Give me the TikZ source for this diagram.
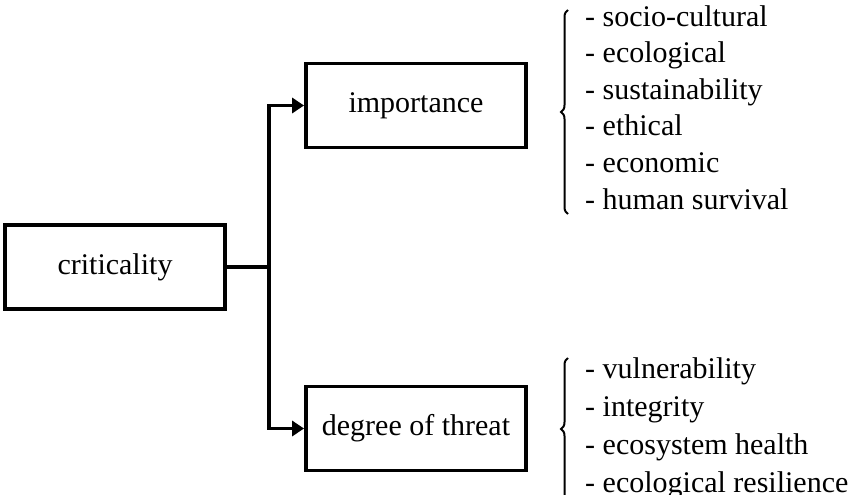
\documentclass[tikz,border=0pt]{standalone}
\usepackage{fontspec}
\setmainfont{Liberation Serif}
\usetikzlibrary{arrows.meta,decorations.pathreplacing}
\begin{document}
\begin{tikzpicture}[x=1pt,y=-1pt,
  box/.style={draw,line width=3.8pt,minimum width=220pt,minimum height=84pt,inner sep=0pt,font=\fontsize{30}{36}\selectfont},
  conn/.style={line width=3.2pt},
  arr/.style={conn,-{Triangle[length=12pt,width=15pt]}},
  lst/.style={anchor=north west,align=left,inner sep=0pt},
  brc/.style={decorate,decoration={brace,amplitude=7pt},line width=2pt}]
\useasboundingbox (0,0) rectangle (854,495);
\clip (0,0) rectangle (854,495);
\node[box] (crit) at (115,267) {criticality};
\node[box] (imp) at (416,105.5) {importance};
\node[box] (thr) at (416,428.5) {degree of threat};
\coordinate (j) at (269,267);
\draw[conn] (crit.east) -- (j);
\draw[arr] (j) |- (imp.west);
\draw[arr] (j) |- (thr.west);
% upper list
\coordinate (b1t) at (568,10);
\coordinate (b1b) at (568,214);
\draw[brc] (b1b) -- (b1t);
\node[lst,font=\fontsize{30}{36.6}\selectfont] (l1) at (585,5) {- socio-cultural\\- ecological\\- sustainability\\- ethical\\- economic\\- human survival};
% lower list
\coordinate (b2t) at (568,358);
\coordinate (b2b) at (568,500);
\draw[brc] (b2b) -- (b2t);
\node[lst,font=\fontsize{30}{38.3}\selectfont] (l2) at (585,357) {- vulnerability\\- integrity\\- ecosystem health\\- ecological resilience};
\end{tikzpicture}
\end{document}
